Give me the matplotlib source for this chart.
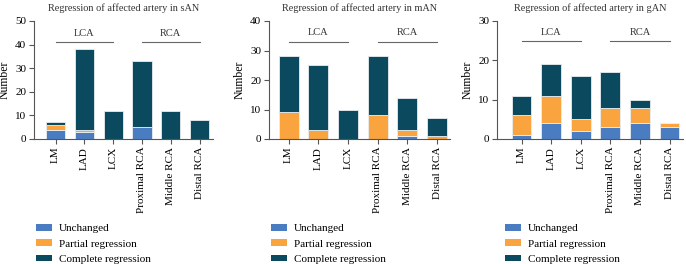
import matplotlib
matplotlib.use("Agg")
import matplotlib.pyplot as plt
import numpy as np
from matplotlib.patches import Patch

plt.rcParams['font.family'] = ['Liberation Serif', 'DejaVu Serif']

categories = ["LM", "LAD", "LCX", "Proximal RCA", "Middle RCA", "Distal RCA"]
series_names = ["Unchanged", "Partial regression", "Complete regression"]
colors = ["#4a7cc2", "#f9a43f", "#0b4a5e"]

# sAN
san_unchanged = [4, 3, 0, 5, 0, 0]
san_partial = [2, 1, 0, 0, 0, 0]
san_complete = [1, 34, 12, 28, 12, 8]
# mAN
man_unchanged = [0, 0, 0, 0, 1, 0]
man_partial = [9, 3, 0, 8, 2, 1]
man_complete = [19, 22, 10, 20, 11, 6]
# gAN
gan_unchanged = [1, 4, 2, 3, 4, 3]
gan_partial = [5, 7, 3, 5, 4, 1]
gan_complete = [5, 8, 11, 9, 2, 0]

titles = ["Regression of affected artery in sAN",
          "Regression of affected artery in mAN",
          "Regression of affected artery in gAN"]
ymaxes = [50, 40, 30]
yticks_list = [[0, 10, 20, 30, 40, 50], [0, 10, 20, 30, 40], [0, 10, 20, 30]]
bracket_y = [41, 33, 24.8]
label_y = [44.9, 36.0, 27.0]

panels = [
    (san_unchanged, san_partial, san_complete),
    (man_unchanged, man_partial, man_complete),
    (gan_unchanged, gan_partial, gan_complete),
]

W, H = 686, 264
fig = plt.figure(figsize=(W / 100, H / 100), dpi=100)

# axes pixel geometry: (left px, first-center offset in units, spacing px)
geoms = [(34, 0.75, 28.8), (269, 0.66, 29.7), (497, 0.83, 29.6)]
legend_x = [36, 271, 505]
top_px, bot_px = 21, 139

for i, (vals, geom) in enumerate(zip(panels, geoms)):
    left, off, sp = geom
    xmin, xmax = -off, 5.45
    width_px = (xmax - xmin) * sp
    ax = fig.add_axes([left / W, 1 - bot_px / H, width_px / W, (bot_px - top_px) / H])
    x = np.arange(len(categories))
    bottom = np.zeros(len(categories))
    for v, c, n in zip(vals, colors, series_names):
        v = np.array(v, dtype=float)
        ax.bar(x, v, width=0.67, bottom=bottom, color=c, edgecolor="#e8eef0",
               linewidth=0.6, label=n)
        bottom += v
    ax.set_xlim(xmin, xmax)
    ax.set_ylim(0, ymaxes[i])
    ax.set_yticks(yticks_list[i])
    ax.set_xticks(x)
    ax.set_xticklabels(categories, rotation=90, fontsize=8)
    ax.tick_params(axis='y', labelsize=8, length=3.5, width=0.8, color="#555555", pad=2)
    ax.tick_params(axis='x', length=3.5, width=0.8, color="#555555", pad=2)
    for s in ["top", "right"]:
        ax.spines[s].set_visible(False)
    for s in ["left", "bottom"]:
        ax.spines[s].set_color("#555555")
        ax.spines[s].set_linewidth(0.8)
    ax.set_ylabel("Number", fontsize=8.5, labelpad=3)
    ax.set_title(titles[i], fontsize=7.4, pad=7, color="#333333")
    # group brackets
    ax.plot([0, 2], [bracket_y[i]] * 2, color="#666666", lw=0.8, clip_on=False)
    ax.plot([3, 5], [bracket_y[i]] * 2, color="#666666", lw=0.8, clip_on=False)
    ax.text(1, label_y[i], "LCA", ha="center", va="center", fontsize=7.5, color="#333333")
    ax.text(4, label_y[i], "RCA", ha="center", va="center", fontsize=7.5, color="#333333")

    handles = [Patch(facecolor=c, edgecolor="none") for c in colors]
    fig.legend(handles, series_names, loc="upper left",
               bbox_to_anchor=(legend_x[i] / W, 1 - 224 / H),
               frameon=False, fontsize=8, handlelength=1.45, handleheight=0.55,
               handletextpad=0.6, labelspacing=0.55, borderaxespad=0, borderpad=0)

fig.savefig("out.png", dpi=100)
